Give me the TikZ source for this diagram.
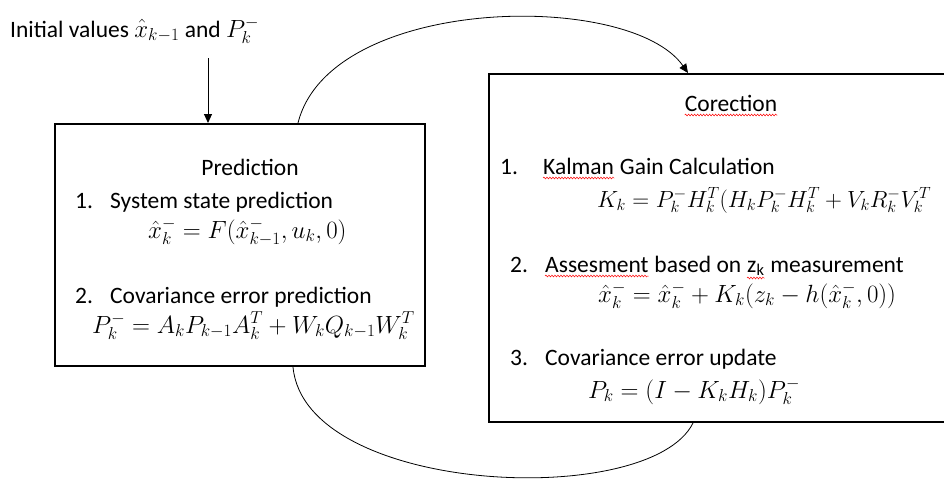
\documentclass[tikz,border=0pt]{standalone}
\usepackage{fontspec}
\setmainfont{Carlito}
\usetikzlibrary{arrows.meta,decorations.pathmorphing,calc}
\begin{document}
\begin{tikzpicture}[x=1pt,y=-1pt,
  txt/.style={inner sep=0pt, anchor=base west, font=\fontsize{23.5}{28}\selectfont},
  boxn/.style={draw, line width=2pt, inner sep=0pt},
  link/.style={line width=0.8pt},
  tip/.style={-{Triangle[length=9pt,width=8pt]}},
  wav/.style={red, line width=0.5pt, decorate, decoration={snake, amplitude=0.9pt, segment length=3pt}}]
\clip (0,0) rectangle (944,482);
% boxes
\node[boxn, minimum width=370pt, minimum height=242pt] (pred) at (240,245) {};
\node[boxn, minimum width=471pt, minimum height=348pt] (corr) at (724.5,248) {};
% initial values
\node[txt] (init) at (10,37) {Initial values $\hat{x}_{k-1}$ and $P_k^-$};
\coordinate (initarrow) at (208,58);
\draw[line width=1pt, tip] (initarrow) -- (initarrow |- pred.north);
% prediction box text
\node[txt, anchor=base] (ptitle) at (250,175) {Prediction};
\node[txt] (p1n) at (75,208) {1.};
\node[txt] (p1) at (110,208) {System state prediction};
\node[txt] (p1f) at (148,238) {$\hat{x}_k^- = F(\hat{x}_{k-1}^-, u_k, 0)$};
\node[txt] (p2n) at (75,303) {2.};
\node[txt] (p2) at (110,303) {Covariance error prediction};
\node[txt] (p2f) at (92,333) {$P_k^- = A_k P_{k-1} A_k^T + W_k Q_{k-1} W_k^T$};
% correction box text
\node[txt, anchor=base] (ctitle) at (731,111) {Corection};
\node[txt] (c1n) at (500,174) {1.};
\node[txt] (c1a) at (543,174) {Kalman};
\node[txt, at=(c1a.base east), xshift=5.5pt] (c1b) {Gain Calculation};
\node[txt] (c1f) at (597,207) {\scalebox{0.94}{$K_k = P_k^- H_k^T (H_k P_k^- H_k^T + V_k R_k^- V_k^T$}};
\node[txt] (c2n) at (510,272) {2.};
\node[txt] (c2a) at (545,272) {Assesment};
\node[txt, at=(c2a.base east), xshift=5.5pt] (c2b) {based on};
\node[txt, at=(c2b.base east), xshift=5.5pt] (c2z) {z\textsubscript{k}};
\node[txt, at=(c2z.base east), xshift=5.5pt] (c2c) {measurement};
\node[txt] (c2f) at (598,302) {$\hat{x}_k^- = \hat{x}_k^- + K_k(z_k - h(\hat{x}_k^-, 0))$};
\node[txt] (c3n) at (510,365) {3.};
\node[txt] (c3) at (545,365) {Covariance error update};
\node[txt] (c3f) at (588,398) {$P_k = (I - K_k H_k) P_k^-$};
% wavy underlines
\draw[wav] ([yshift=-4pt]ctitle.base west) -- ([yshift=-4pt]ctitle.base east);
\draw[wav] ([yshift=-4pt]c1a.base west) -- ([yshift=-4pt]c1a.base east);
\draw[wav] ([yshift=-4pt]c2a.base west) -- ([yshift=-4pt]c2a.base east);
\draw[wav] ([yshift=-6pt]c2z.base west) -- ([yshift=-6pt]c2z.base east);
% loop connectors
\draw[link, tip] ([xshift=58pt]pred.north) .. controls (330,-5) and (630,-10) .. ([xshift=-36.5pt]corr.north);
\draw[link] ([xshift=53pt]pred.south) .. controls (305,495) and (650,510) .. ([xshift=-31.5pt]corr.south);
\end{tikzpicture}
\end{document}
